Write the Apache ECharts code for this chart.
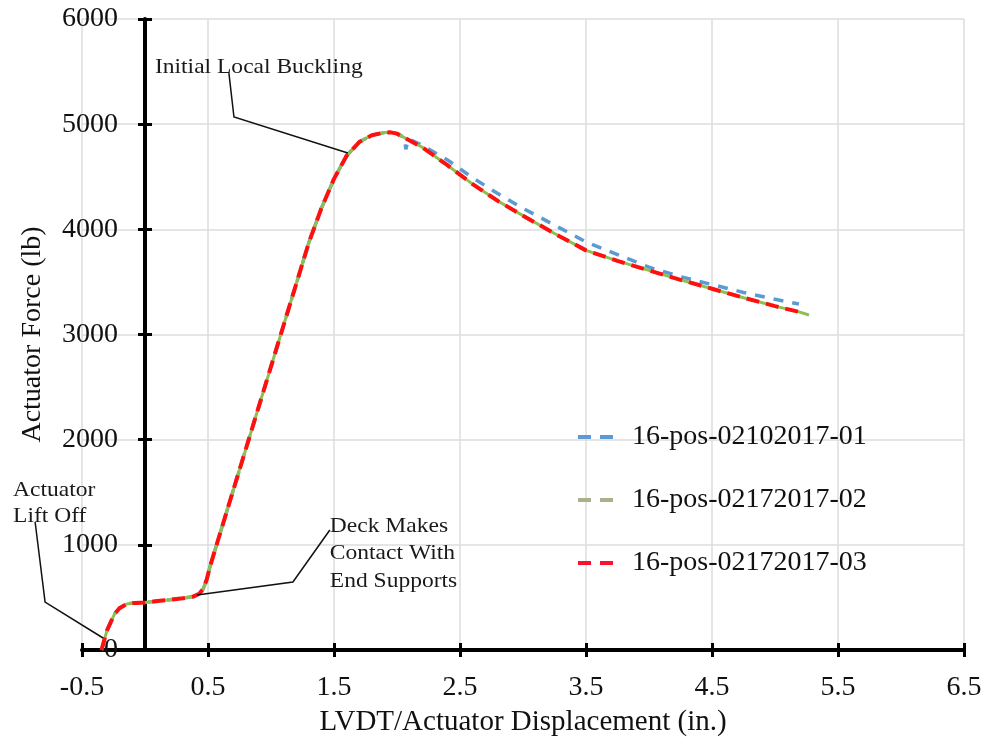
<!DOCTYPE html>
<html>
<head>
<meta charset="utf-8">
<script src="https://cdn.jsdelivr.net/npm/echarts@6/dist/echarts.min.js"></script>
<style>
  html, body { margin: 0; padding: 0; background: #fff; }
  #chart { width: 990px; height: 749px; }
</style>
</head>
<body>
<div id="chart"></div>
<script>
// ---- data ----
const seriesNames = ['16-pos-02102017-01', '16-pos-02172017-02', '16-pos-02172017-03']

// shared loading branch (all three tests overlap up to the peak)
const riseX = [-0.345, -0.32, -0.30, -0.27, -0.24, -0.20, -0.145, -0.08, 0, 0.1, 0.2, 0.3, 0.383, 0.43, 0.462, 0.49, 0.515, 0.6, 0.7, 0.8, 0.9, 1.0, 1.1, 1.2, 1.3, 1.4, 1.5, 1.6, 1.7, 1.8, 1.9, 1.95, 2.0]
const riseY = [0, 110, 190, 270, 345, 400, 438, 448, 452, 465, 478, 492, 508, 535, 580, 670, 790, 1125, 1518, 1910, 2303, 2695, 3088, 3480, 3873, 4200, 4480, 4700, 4830, 4895, 4920, 4922, 4910]

// post-peak branches
const fallX01 = [2.06, 2.07, 2.09, 2.2, 2.4, 2.6, 2.8, 3.0, 3.25, 3.5, 3.75, 4.0, 4.25, 4.5, 4.75, 5.0, 5.19]
const fallY01 = [4870, 4760, 4860, 4800, 4660, 4490, 4340, 4200, 4040, 3880, 3760, 3640, 3550, 3475, 3400, 3335, 3290]
const fallX02 = [2.2, 2.4, 2.6, 2.8, 3.0, 3.25, 3.5, 3.75, 4.0, 4.25, 4.5, 4.75, 5.0, 5.19, 5.27]
const fallY02 = [4780, 4610, 4430, 4270, 4130, 3960, 3800, 3700, 3610, 3520, 3435, 3350, 3270, 3215, 3185]
const fallX03 = [2.2, 2.4, 2.6, 2.8, 3.0, 3.25, 3.5, 3.75, 4.0, 4.25, 4.5, 4.75, 5.0, 5.19]
const fallY03 = [4780, 4610, 4430, 4270, 4130, 3960, 3800, 3700, 3610, 3520, 3435, 3350, 3270, 3215]

const xTicks = [-0.5, 0.5, 1.5, 2.5, 3.5, 4.5, 5.5, 6.5]

// callouts, in data units
const noteBuckling = ['Initial Local Buckling']
const noteBucklingAt = [[0.079, 5540]]
const noteBucklingLine = [[0.666, 5486], [0.706, 5068], [1.61, 4726]]
const noteLift = ['Actuator', 'Lift Off']
const noteLiftAt = [[-1.047, 1521], [-1.047, 1274]]
const noteLiftLine = [[-0.872, 1217], [-0.793, 456], [-0.333, 114]]
const noteDeck = ['Deck Makes', 'Contact With', 'End Supports']
const noteDeckAt = [[1.467, 1170], [1.467, 913], [1.467, 656]]
const noteDeckLine = [[1.467, 1141], [1.174, 647], [0.412, 523]]

function pairs(xs, ys) {
  return xs.map((x, i) => [x, ys[i]])
}
const data01 = pairs(riseX, riseY).concat(pairs(fallX01, fallY01))
const data02 = pairs(riseX, riseY).concat(pairs(fallX02, fallY02))
const data03 = pairs(riseX, riseY).concat(pairs(fallX03, fallY03))

const serif = '"Liberation Serif", "Times New Roman", serif'
// two short dashes, used as legend icon
const dashIcon = 'path://M0,0 h13 v4 h-13 z M22,0 h13 v4 h-13 z'
const tickStyle = { color: '#000', width: 3 }

const chart = echarts.init(document.getElementById('chart'))
const option = {
  backgroundColor: '#fff',
  animation: false,
  grid: { left: 82, right: 26, top: 19, bottom: 99, containLabel: false, outerBoundsMode: 'none' },
  legend: {
    orient: 'vertical',
    left: 573,
    top: 418,
    icon: dashIcon,
    itemWidth: 35,
    itemHeight: 4,
    itemGap: 35,
    textStyle: { fontFamily: serif, fontSize: 28, color: '#111', padding: [0, 0, 0, 14] },
    data: [
      { name: seriesNames[0], itemStyle: { color: '#5b9bd5' } },
      { name: seriesNames[1], itemStyle: { color: '#a9b08c' } },
      { name: seriesNames[2], itemStyle: { color: '#ff1030' } }
    ]
  },
  xAxis: [{
    type: 'value',
    min: -0.5,
    max: 6.5,
    name: 'LVDT/Actuator Displacement (in.)',
    nameLocation: 'middle',
    nameGap: 58,
    nameMoveOverlap: false,
    nameTextStyle: { fontFamily: serif, fontSize: 29, color: '#111' },
    axisLine: { onZero: false, lineStyle: { color: '#000', width: 4 } },
    axisTick: { customValues: xTicks, length: 7, lineStyle: tickStyle },
    axisLabel: { customValues: xTicks, fontFamily: serif, fontSize: 28, color: '#111', margin: 24, formatter: v => v.toFixed(1) },
    splitLine: { show: true, lineStyle: { color: '#dcdcdc', width: 1.5 } }
  }, {
    type: 'value',
    min: -0.5,
    max: 6.5,
    axisLine: { show: false, onZero: false },
    axisTick: { customValues: xTicks, inside: true, length: 7, lineStyle: tickStyle },
    axisLabel: { show: false },
    splitLine: { show: false },
    position: 'bottom'
  }],
  yAxis: [{
    // labels, name and grid lines
    type: 'value',
    min: 0,
    max: 6000,
    interval: 1000,
    name: 'Actuator Force (lb)',
    nameLocation: 'middle',
    nameGap: 35,
    nameMoveOverlap: false,
    nameTextStyle: { fontFamily: serif, fontSize: 28, color: '#111' },
    axisLine: { show: false, onZero: false },
    axisTick: { show: false },
    axisLabel: { fontFamily: serif, fontSize: 28, color: '#111', margin: -36, formatter: v => String(v) },
    splitLine: { show: true, lineStyle: { color: '#dcdcdc', width: 1.5 } }
  }, {
    // axis line at x = 0, outer ticks
    type: 'value',
    min: 0,
    max: 6000,
    interval: 1000,
    axisLine: { onZero: true, lineStyle: { color: '#000', width: 4 } },
    axisTick: { length: 7, lineStyle: tickStyle },
    axisLabel: { show: false },
    splitLine: { show: false },
    position: 'left'
  }, {
    // inner ticks
    type: 'value',
    min: 0,
    max: 6000,
    interval: 1000,
    axisLine: { show: false, onZero: true },
    axisTick: { inside: true, length: 7, lineStyle: tickStyle },
    axisLabel: { show: false },
    splitLine: { show: false },
    position: 'left'
  }],
  series: [{
    name: seriesNames[0],
    type: 'line',
    data: data01,
    symbol: 'none',
    z: 3,
    lineStyle: { color: '#5b9bd5', width: 3.5, type: [10, 9] }
  }, {
    name: seriesNames[1],
    type: 'line',
    data: data02,
    symbol: 'none',
    z: 4,
    lineStyle: { color: '#8cc152', width: 3 }
  }, {
    name: seriesNames[2],
    type: 'line',
    data: data03,
    symbol: 'none',
    z: 5,
    lineStyle: { color: '#ff1010', width: 4, type: [13, 7] }
  }]
}
chart.setOption(option)

// callouts placed through the axes
function px(p) {
  return chart.convertToPixel({ xAxisIndex: 0, yAxisIndex: 0 }, p)
}
function noteTexts(lines, at) {
  return lines.map((t, i) => {
    const p = px(at[i])
    return {
      type: 'text', x: p[0], y: p[1], scaleX: 1.12, z: 20,
      style: { text: t, font: '21px ' + serif, fill: '#1a1a1a', verticalAlign: 'middle' }
    }
  })
}
function leader(points) {
  return {
    type: 'polyline', z: 20,
    shape: { points: points.map(px) },
    style: { stroke: '#111', lineWidth: 1.5, fill: null }
  }
}
chart.setOption({
  graphic: [].concat(
    noteTexts(noteBuckling, noteBucklingAt),
    noteTexts(noteLift, noteLiftAt),
    noteTexts(noteDeck, noteDeckAt),
    [leader(noteBucklingLine), leader(noteLiftLine), leader(noteDeckLine)]
  )
})
</script>
</body>
</html>
